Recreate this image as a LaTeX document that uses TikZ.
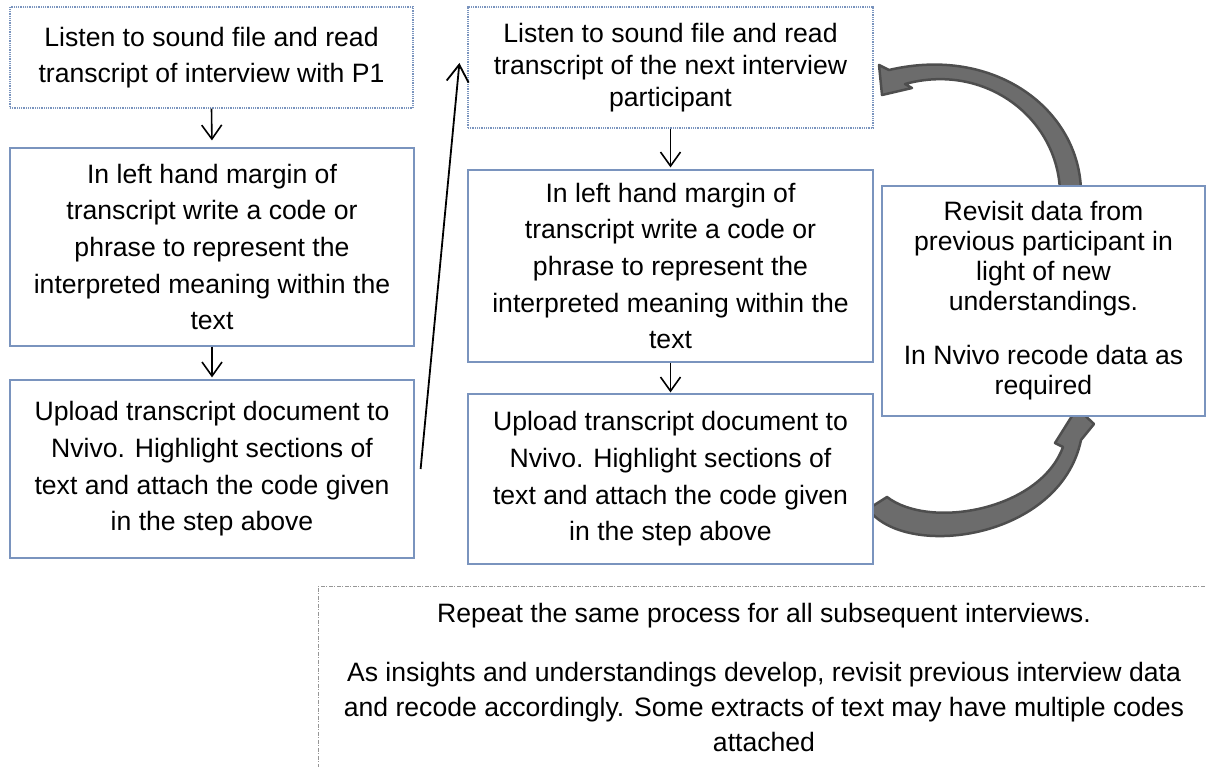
\documentclass[tikz,border=0pt]{standalone}
\usepackage{fontspec}
\setmainfont{Liberation Sans}
\usetikzlibrary{arrows.meta}
\pgfdeclarelayer{background}
\pgfsetlayers{background,main}
\definecolor{boxblue}{RGB}{122,148,190}
\definecolor{arrfill}{RGB}{108,108,108}
\definecolor{arredge}{RGB}{78,78,78}
\definecolor{hgray}{RGB}{150,150,150}
\begin{document}
\begin{tikzpicture}[x=1pt,y=-1pt,
  every node/.style={font=\fontsize{26.6}{36.7}\selectfont, align=center, inner sep=0pt},
  procbox/.style={draw=boxblue, line width=1.2pt, fill=white, rectangle},
  dotbox/.style={procbox, dash pattern=on 1pt off 0.8pt},
  notebox/.style={draw=hgray, line width=0.8pt, dash pattern=on 4pt off 1.5pt on 1pt off 1.5pt, rectangle},
  flow/.style={line width=1.6pt, -{Straight Barb[length=14pt,width=20pt]}},
  longflow/.style={line width=1.8pt, -{Straight Barb[length=17pt,width=22pt]}},
  blockarrow/.style={fill=arrfill, draw=arredge, line width=2.5pt, line join=round},
]
\useasboundingbox (0,0) rectangle (1206,767);
\clip (0,0) rectangle (1206,767);

\node[dotbox, minimum width=403pt, minimum height=101pt] (A) at (211.5,57.5)
  {Listen to sound file and read\\transcript of interview with P1};
\node[procbox, minimum width=404pt, minimum height=198pt] (B) at (212,247)
  {In left hand margin of\\transcript write a code or\\phrase to represent the\\interpreted meaning within the\\text};
\node[procbox, minimum width=404pt, minimum height=178pt] (C) at (212,469)
  {Upload transcript document to\\Nvivo. Highlight sections of\\text and attach the code given\\in the step above};

\node[dotbox, minimum width=405pt, minimum height=121pt, font=\fontsize{26.6}{32}\selectfont] (D) at (670.5,67.5)
  {Listen to sound file and read\\transcript of the next interview\\participant};
\node[procbox, minimum width=405pt, minimum height=192pt] (E) at (670.5,266)
  {In left hand margin of\\transcript write a code or\\phrase to represent the\\interpreted meaning within the\\text};
\node[procbox, minimum width=405pt, minimum height=170pt] (F) at (670.5,479)
  {Upload transcript document to\\Nvivo. Highlight sections of\\text and attach the code given\\in the step above};

\node[procbox, minimum width=323pt, minimum height=230pt, font=\fontsize{26.6}{30}\selectfont] (G) at (1043.5,301)
  {Revisit data from\\previous participant in\\light of new\\understandings.\\[24pt]In Nvivo recode data as\\required};

\node[notebox, anchor=north, minimum width=892pt, inner ysep=17pt, font=\fontsize{26.6}{35}\selectfont] (H) at (764,586)
  {Repeat the same process for all subsequent interviews.\\[24pt]As insights and understandings develop, revisit previous interview data\\and recode accordingly. Some extracts of text may have multiple codes\\attached};

% straight connectors
\draw[flow, shorten >=7pt] (A.south) -- (B.north);
\draw[flow, shorten >=2pt] (B.south) -- (C.north);
\draw[flow, shorten >=2pt] (D.south) -- (E.north);
\draw[flow, shorten >=1pt] (E.south) -- (F.north);
\draw[longflow] ([xshift=6pt]C.east) -- ([xshift=-8pt,yshift=4.5pt]D.west);

% curved block arrows (behind the boxes)
\begin{pgfonlayer}{background}
\filldraw[blockarrow]
  (1081,192) .. controls (1080,110) and (995,45) .. (889,70)
  -- (879,65) -- (882,95) -- (912,88) -- (905,84)
  .. controls (985,62) and (1058,118) .. (1060,192) -- cycle;
\filldraw[blockarrow]
  (887,497) .. controls (930,530) and (1040,510) .. (1063,447)
  -- (1055,443) -- (1077,408) -- (1094,424) -- (1081,440)
  .. controls (1060,540) and (905,560) .. (868,509) -- cycle;
\end{pgfonlayer}
\end{tikzpicture}
\end{document}
